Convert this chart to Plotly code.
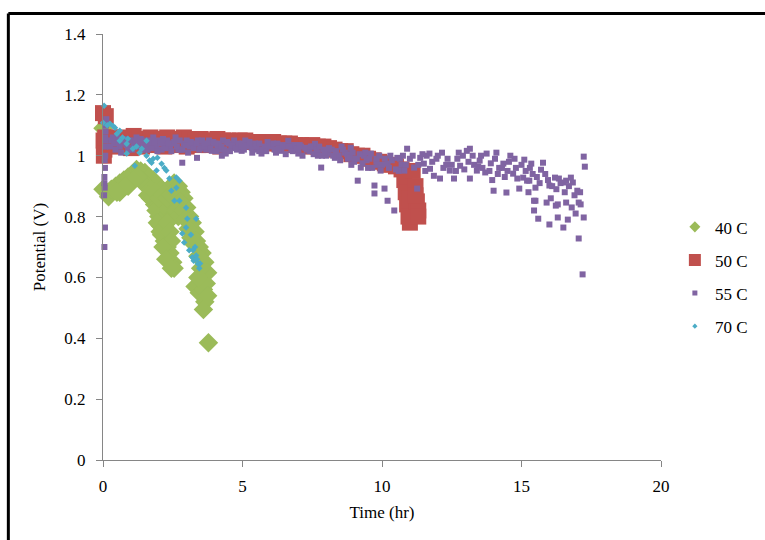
import plotly.graph_objects as go

# ---------------- data ----------------
t40 = [0.0, 0.0, 0.15, 0.2, 0.3, 0.45, 0.6, 0.6, 0.75, 0.9, 0.9, 1.05, 1.2, 1.35, 1.5, 1.65, 1.8, 1.95,
       2.1, 2.25, 2.4, 2.55, 2.7, 2.8, 2.9, 3.0, 3.1, 3.2, 3.3, 3.35, 3.45, 3.55, 3.65, 3.75,
       3.3, 3.45, 3.6, 3.65, 3.6, 3.78,
       1.7, 1.85, 1.9, 2.0, 2.05, 2.15, 2.25, 2.1, 2.2, 2.3, 2.4, 2.5, 2.55, 2.35, 2.5, 2.6, 2.2,
       1.4, 1.55, 1.7, 1.6, 1.85, 2.0, 2.15, 2.3, 2.45, 2.65, 2.75, 2.6, 2.7, 2.85, 2.95, 1.95,
       2.05, 2.3, 2.4, 2.45, 2.35, 2.15, 1.25, 1.1, 0.8, 0.5, 3.05, 3.15, 3.25, 3.4, 3.5, 3.7,
       3.75, 3.4, 2.25, 2.45]
v40 = [1.09, 0.89, 0.88, 0.865, 0.89, 0.90, 0.91, 0.88, 0.92, 0.93, 0.90, 0.94, 0.955, 0.95, 0.945, 0.93, 0.92, 0.905,
       0.89, 0.88, 0.895, 0.91, 0.90, 0.88, 0.86, 0.83, 0.80, 0.78, 0.75, 0.72, 0.70, 0.68, 0.65, 0.615,
       0.57, 0.55, 0.56, 0.52, 0.495, 0.385,
       0.86, 0.84, 0.82, 0.80, 0.77, 0.79, 0.76, 0.74, 0.72, 0.70, 0.68, 0.65, 0.63, 0.82, 0.84, 0.86, 0.84,
       0.92, 0.90, 0.89, 0.87, 0.88, 0.86, 0.87, 0.86, 0.87, 0.88, 0.85, 0.82, 0.80, 0.82, 0.79, 0.78,
       0.75, 0.78, 0.75, 0.72, 0.66, 0.70, 0.93, 0.92, 0.90, 0.88, 0.76, 0.73, 0.71, 0.67, 0.63, 0.58,
       0.54, 0.60, 0.66, 0.63]

t50 = [0.0, 0.1, 0.02, 0.05, 0.03, 0.08,
       0.3, 0.5, 0.7, 0.9, 1.1, 1.3, 1.5, 1.7, 1.9, 2.1, 2.3, 2.5, 2.7, 2.9, 3.1, 3.3, 3.5, 3.7, 3.9,
       4.1, 4.3, 4.5, 4.7, 4.9, 5.1, 5.3, 5.5, 5.7, 5.9, 6.1, 6.3, 6.5, 6.7, 6.9, 7.1, 7.3, 7.5, 7.7,
       7.9, 8.1, 8.3, 8.5, 8.7, 8.9, 9.1, 9.3, 9.5, 9.7, 9.9, 10.1, 10.3, 10.5, 10.7,
       0.6, 1.0, 1.4, 1.8, 2.2, 2.6, 3.0, 3.4, 3.8, 4.2,
       10.8, 10.85, 10.9, 10.95, 11.0, 11.0, 11.1, 11.2, 11.25, 11.3, 11.3, 11.2]
v50 = [1.14, 1.13, 1.05, 1.02, 1.0, 1.06,
       1.06, 1.055, 1.06, 1.05, 1.065, 1.055, 1.05, 1.06, 1.055, 1.05, 1.06, 1.055, 1.05, 1.06, 1.055, 1.05, 1.055, 1.05, 1.05,
       1.055, 1.05, 1.05, 1.045, 1.05, 1.05, 1.045, 1.045, 1.045, 1.04, 1.045, 1.04, 1.04, 1.04, 1.035, 1.035, 1.03, 1.035, 1.03,
       1.03, 1.025, 1.02, 1.015, 1.015, 1.005, 1.0, 1.0, 0.99, 0.985, 0.98, 0.975, 0.97, 0.965, 0.955,
       1.03, 1.025, 1.03, 1.035, 1.03, 1.035, 1.03, 1.035, 1.035, 1.03,
       0.92, 0.88, 0.84, 0.80, 0.78, 0.86, 0.95, 0.90, 0.85, 0.82, 0.80, 0.87]

t55 = [0.05, 0.07, 0.04, 0.06, 0.05, 0.07, 0.06, 0.08, 0.07, 0.08, 0.09, 0.1, 0.12, 0.05, 0.1,
       0.3, 0.4, 0.5, 0.6, 0.7, 0.8, 0.9, 1.0, 1.1, 1.2, 1.3, 1.4, 1.5, 1.6, 1.7, 1.8, 1.9, 2.0, 2.1, 2.2,
       2.3, 2.4, 2.5, 2.6, 2.7, 2.84, 2.9, 3.0, 3.1, 3.2, 3.37, 3.4, 3.5, 3.6, 3.7, 3.8, 3.9, 4.0, 4.1,
       4.26, 4.3, 4.4, 4.5, 4.6, 4.7, 4.8, 4.97, 5.0, 5.1, 5.2,
       5.33, 5.45, 5.55, 5.68, 5.8, 5.9, 6.04, 6.15, 6.25, 6.39, 6.5, 6.64, 6.75, 6.85, 7.0, 7.1, 7.25,
       7.4, 7.5, 7.6, 7.7, 7.82, 7.9, 8.06, 8.2, 8.31, 8.45, 8.55, 8.67, 8.78, 8.88, 9.0, 9.13, 9.24,
       9.35, 9.45, 9.6, 9.73, 9.73, 9.85, 9.95, 10.09, 10.2, 10.2, 10.3, 10.44, 10.55, 10.7, 10.8, 10.9,
       11.0, 11.15, 11.26, 11.37, 11.5, 11.6, 11.7, 11.72, 11.86, 11.95, 12.08, 12.15, 12.3, 12.43,
       12.58, 12.7, 12.8, 12.9, 13.04, 13.15, 13.15, 13.3, 13.4, 13.5, 13.6, 13.75, 13.85, 14.0, 14.1,
       14.2, 14.35, 14.46, 14.6, 14.7, 14.8, 14.92, 15.06, 15.1, 15.2, 15.28, 15.35, 15.45, 15.45,
       15.5, 15.5, 15.6, 15.7, 15.77, 15.9, 16.0, 16.0, 16.2, 16.23, 16.3, 16.3, 16.34, 16.5, 16.5,
       16.6, 16.6, 16.66, 16.77, 16.84, 16.94, 17.0, 17.05, 17.05, 17.12, 17.19, 17.23, 17.23, 17.27,
       1.0, 1.6, 2.2, 2.8, 3.5, 4.2, 4.9, 5.6, 6.3, 7.0, 7.7, 8.4, 9.1, 9.8, 8.0, 8.9, 9.5, 10.6,
       0.25, 0.35, 0.45, 0.55, 0.65, 0.75, 0.85, 0.95, 1.05, 1.15, 1.25, 1.35, 1.45, 1.55, 1.65, 1.75,
       1.85, 1.95, 2.05, 2.15, 2.25, 2.35, 2.45, 2.55, 2.65, 2.75, 2.85, 2.95, 3.05, 3.15, 3.25, 3.35,
       3.45, 3.55, 3.65, 3.75, 3.85, 3.95, 4.05, 4.15, 4.25, 4.35, 4.45, 4.55, 4.65, 4.75, 4.85, 4.95,
       5.05, 5.15, 5.25, 5.35, 5.5, 5.6, 5.7, 5.85, 5.95, 6.1, 6.2, 6.3, 6.45, 6.55, 6.7, 6.8, 6.95,
       7.05, 7.15, 7.3, 7.45, 7.55, 7.65, 7.75, 7.85, 7.95, 8.1, 8.25, 8.35, 8.5, 8.6, 8.75, 8.85, 8.95,
       9.05, 9.2, 9.3, 9.4, 9.55, 9.65, 9.8, 9.9, 10.0, 10.1, 10.25, 10.35, 10.5, 10.65, 10.75, 10.85,
       11.1, 11.3, 11.45, 11.55, 11.8, 12.0, 12.2, 12.35, 12.5, 12.65, 12.75, 12.95, 13.1, 13.25, 13.45,
       13.55, 13.7, 13.9, 14.05, 14.15, 14.3, 14.5, 14.55, 14.75, 14.85, 15.0, 15.15, 15.3, 15.4, 15.55,
       15.65, 15.85, 15.95, 16.1, 16.25, 16.4, 16.55, 16.7, 16.9, 17.1, 14.4, 13.95, 15.25, 16.05, 16.8]
v55 = [0.70, 0.764, 0.87, 0.895, 0.93, 0.96, 0.985, 1.0, 1.03, 1.06, 1.08, 1.10, 1.12, 0.91, 1.05,
       1.05, 1.04, 1.06, 1.03, 1.05, 1.04, 1.02, 1.05, 1.03, 1.06, 1.04, 1.02, 1.05, 1.03, 1.04, 1.06, 1.03, 1.05, 1.02, 1.04,
       1.05, 1.03, 1.04, 1.06, 1.02, 0.977, 1.04, 1.05, 1.03, 1.04, 0.993, 1.05, 1.03, 1.04, 1.02, 1.05, 1.016, 1.04, 1.03,
       1.0, 1.05, 1.007, 1.04, 1.03, 1.05, 1.02, 1.016, 1.04, 1.05, 1.03,
       1.026, 1.04, 1.02, 1.007, 1.03, 1.045, 1.033, 1.02, 1.04, 1.016, 1.03, 1.049, 1.02, 1.035, 1.007, 1.03, 1.026,
       1.015, 1.03, 1.039, 1.0, 0.961, 1.02, 1.007, 1.02, 0.993, 1.0, 1.03, 1.01, 0.99, 1.026, 0.98, 0.918, 0.961,
       1.0, 0.985, 1.007, 0.902, 0.876, 0.97, 0.951, 0.892, 0.852, 0.974, 1.0, 0.82, 0.993, 0.97, 0.951, 1.023,
       0.99, 0.961, 0.892, 0.993, 0.974, 1.0, 1.007, 0.957, 0.934, 0.99, 0.925, 1.01, 0.97, 0.951,
       0.925, 0.99, 0.967, 1.0, 1.016, 1.023, 0.925, 0.97, 0.951, 0.984, 0.96, 1.007, 0.95, 0.885, 1.01,
       0.96, 0.974, 0.879, 1.0, 0.941, 0.96, 0.892, 0.928, 0.987, 0.918, 0.918, 0.974, 0.852, 0.82,
       0.895, 0.852, 0.793, 0.954, 0.977, 0.846, 0.774, 0.902, 0.928, 0.836, 0.84, 0.797, 0.925, 0.912, 0.764,
       0.918, 0.846, 0.79, 0.928, 0.912, 0.81, 0.885, 0.846, 0.728, 0.84, 0.61, 0.997, 0.797, 0.964,
       1.025, 1.02, 1.03, 1.02, 1.025, 1.02, 1.03, 1.015, 1.02, 1.02, 1.01, 1.0, 0.99, 0.98, 1.0, 0.97, 0.96, 0.95,
       1.03, 1.06, 1.02, 1.045, 1.01, 1.055, 1.035, 1.05, 1.02, 1.045, 1.03, 1.055, 1.035, 1.02, 1.05, 1.025,
       1.045, 1.015, 1.04, 1.055, 1.025, 1.04, 1.015, 1.045, 1.03, 1.05, 1.02, 1.035, 1.01, 1.045, 1.025, 1.04,
       1.02, 1.05, 1.03, 1.04, 1.025, 1.045, 1.015, 1.04, 1.03, 1.02, 1.045, 1.015, 1.035, 1.025, 1.04, 1.03,
       1.02, 1.035, 1.045, 1.01, 1.03, 1.04, 1.02, 1.015, 1.03, 1.04, 1.01, 1.025, 1.035, 1.005, 1.03, 1.015, 1.025,
       1.035, 1.0, 1.02, 1.03, 1.005, 1.02, 1.03, 1.0, 1.01, 1.025, 1.0, 1.015, 0.985, 1.02, 1.005, 0.995, 1.01,
       0.99, 1.005, 0.975, 1.01, 0.99, 0.96, 0.99, 1.0, 0.97, 0.99, 0.96, 0.985, 0.955, 0.99, 1.0, 0.97,
       1.0, 0.97, 1.005, 0.95, 0.98, 1.0, 0.96, 0.99, 0.97, 0.95, 1.01, 0.955, 0.98, 1.0, 0.965,
       1.0, 0.945, 0.975, 0.99, 0.94, 0.96, 0.95, 0.98, 0.99, 0.925, 0.97, 0.95, 0.96, 0.94, 0.93,
       0.91, 0.94, 0.92, 0.90, 0.89, 0.91, 0.88, 0.90, 0.87, 0.88, 0.93, 0.92, 0.88, 0.86, 0.83]

t70 = [0.04, 0.0, 0.25, 0.36, 0.5, 0.6, 0.85, 0.85, 1.14, 1.31, 1.56, 1.67, 1.95, 2.27, 2.38, 2.63, 2.63,
       2.74, 2.98, 3.02, 3.34, 2.98, 2.84, 2.91, 3.09, 3.2, 3.34, 2.1, 1.92, 1.74, 1.56, 1.39, 1.07, 0.89,
       0.6, 0.43, 2.45, 2.56, 2.74, 0.15, 0.7, 1.2, 1.8, 2.2, 3.25, 3.4, 3.45, 3.15, 3.3, 3.23, 3.37, 3.48]
v70 = [1.164, 1.108, 1.105, 1.098, 1.072, 1.049, 1.039, 1.007, 0.967, 1.01, 1.049, 0.984, 0.993, 0.951, 0.925, 0.928, 0.895,
       0.852, 0.829, 0.793, 0.793, 0.764, 0.744, 0.715, 0.689, 0.666, 0.672, 0.974, 0.951, 0.977, 1.0, 1.023, 1.023, 1.056,
       1.082, 1.092, 0.885, 0.852, 0.918, 1.10, 1.06, 1.03, 0.99, 0.96, 0.655, 0.645, 0.63, 0.74, 0.70, 0.69, 0.66, 0.646]

series_names = ["40 C", "50 C", "55 C", "70 C"]
series_colors = ["#9BBB59", "#C0504D", "#8064A2", "#4BACC6"]

x_ticks = [0, 5, 10, 15, 20]
y_ticks = [0, 0.2, 0.4, 0.6, 0.8, 1, 1.2, 1.4]
y_tick_text = ["0", "0.2", "0.4", "0.6", "0.8", "1", "1.2", "1.4"]

# ---------------- figure ----------------
fig = go.Figure()
datasets = [(t40, v40), (t50, v50), (t55, v55), (t70, v70)]
symbols = ["diamond", "square", "square", "diamond"]
plot_sizes = [15, 16, 6, 5]
legend_sizes = [8.5, 12, 5, 4]

for (tx, vy), name, col, sym, sz in zip(datasets, series_names, series_colors, symbols, plot_sizes):
    fig.add_trace(go.Scatter(x=tx, y=vy, mode="markers", name=name, showlegend=False,
                             cliponaxis=False,
                             marker=dict(symbol=sym, size=sz, color=col, line=dict(width=0))))

for i, (name, col, sym, sz) in enumerate(zip(series_names, series_colors, symbols, legend_sizes)):
    fig.add_trace(go.Scatter(x=[None], y=[None], mode="markers", name=name, legendgroup="g%d" % i,
                             marker=dict(symbol=sym, size=sz, color=col, line=dict(width=0))))

L, R, T, B = 103, 99, 34, 80
PW, PH = 765 - L - R, 540 - T - B

axis_font = dict(family="Liberation Serif", size=17, color="black")
title_font = dict(family="Liberation Serif", size=17, color="black")
fig.update_layout(
    width=765, height=540,
    margin=dict(l=L, r=R, t=T, b=B),
    paper_bgcolor="white", plot_bgcolor="white",
    font=dict(family="Liberation Serif", size=17, color="black"),
    xaxis=dict(range=[0, 20], tickvals=x_ticks, showgrid=False, zeroline=False,
               showline=True, linecolor="#868686", linewidth=1,
               ticks="outside", ticklen=6, tickcolor="#868686",
               tickfont=axis_font, ticklabelstandoff=5,
               title=dict(text="Time (hr)", font=title_font, standoff=10)),
    yaxis=dict(range=[0, 1.4], tickvals=y_ticks, ticktext=y_tick_text, showgrid=False, zeroline=False,
               showline=True, linecolor="#868686", linewidth=1,
               ticks="outside", ticklen=6, tickcolor="#868686",
               tickfont=axis_font, ticklabelstandoff=7,
               title=dict(text="Potential (V)", font=title_font, standoff=14)),
    legend=dict(x=(680 - L) / PW, y=0.43, xanchor="left", yanchor="middle",
                font=dict(family="Liberation Serif", size=17),
                tracegroupgap=8, itemwidth=30, bgcolor="rgba(0,0,0,0)"),
    shapes=[
        dict(type="line", xref="paper", yref="paper",
             x0=(7.5 - L) / PW, x1=1.2, y0=(540 - B - 13.5) / PH, y1=(540 - B - 13.5) / PH,
             line=dict(color="black", width=3)),
        dict(type="line", xref="paper", yref="paper",
             x0=(7.5 - L) / PW, x1=(7.5 - L) / PW, y0=(540 - B - 13.5) / PH, y1=-0.3,
             line=dict(color="black", width=3)),
    ],
)

fig.write_html("out.html")
